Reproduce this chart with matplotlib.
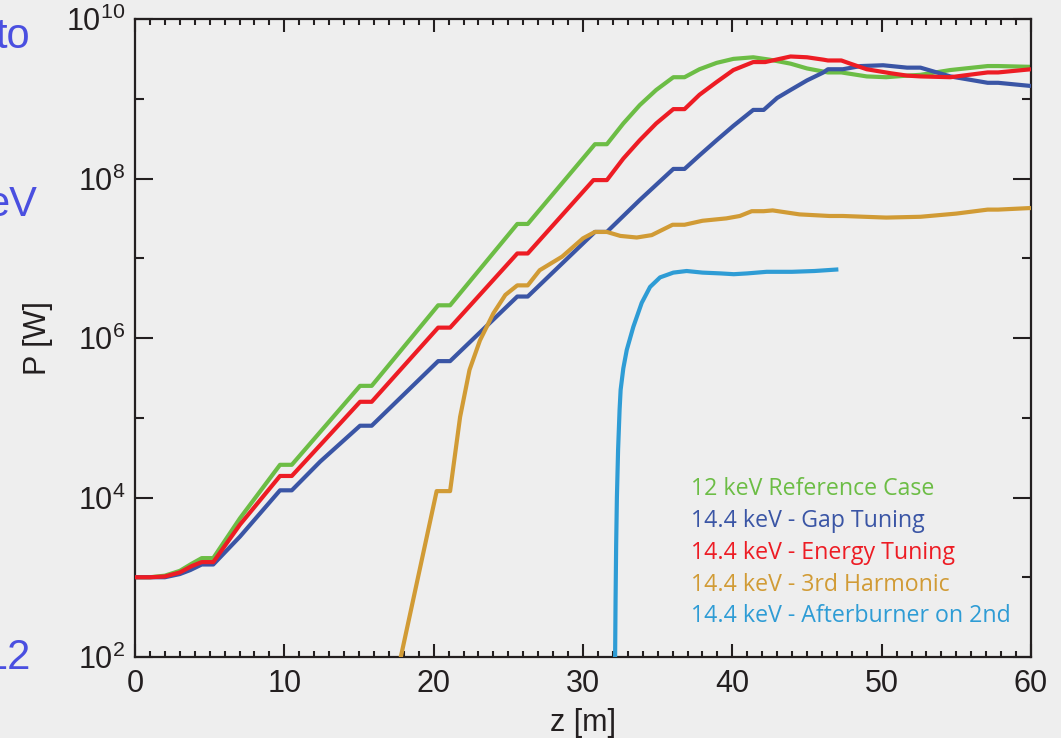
import numpy as np
import matplotlib
matplotlib.use("Agg")
import matplotlib.pyplot as plt
from matplotlib.ticker import FixedLocator, NullFormatter

plt.rcParams['font.family'] = ['Liberation Sans', 'DejaVu Sans']
plt.rcParams['mathtext.default'] = 'regular'

# ---------------- data (log10 of power in W vs z in m) ----------------
z_ref = [0, 1, 2, 3, 3.8, 4.47, 5.24, 7.03, 9.71, 10.5, 15.07, 15.85, 20.3, 21.1,
         25.6, 26.3, 30.8, 31.6, 32.7, 33.8, 34.9, 36.05, 36.8, 37.8, 38.95, 40.07,
         41.4, 42.5, 43.9, 45.0, 46.4, 47.3, 49.0, 50.3, 51.7, 52.6, 54.6, 57.1, 57.8, 60]
logp_ref = [3.0, 3.0, 3.02, 3.08, 3.17, 3.24, 3.24, 3.74, 4.41, 4.41, 5.40, 5.40, 6.41, 6.41,
            7.43, 7.43, 8.43, 8.43, 8.69, 8.92, 9.11, 9.27, 9.27, 9.37, 9.45, 9.50,
            9.52, 9.49, 9.44, 9.38, 9.33, 9.33, 9.28, 9.27, 9.29, 9.30, 9.36, 9.41, 9.41, 9.40]

z_gap = [0, 1, 2, 3, 3.7, 4.47, 5.24, 7.03, 9.71, 10.5, 12.4, 15.07, 15.85, 20.3, 21.1,
         25.6, 26.3, 30.8, 31.6, 33.8, 36.05, 36.8, 37.8, 38.95, 40.07, 41.4, 42.1,
         43.0, 43.9, 45.0, 46.1, 46.4, 47.4, 48.6, 50.1, 51.7, 52.6, 54.6, 57.1, 57.8, 60]
logp_gap = [3.0, 3.0, 3.0, 3.04, 3.09, 3.16, 3.16, 3.51, 4.09, 4.09, 4.45, 4.90, 4.90, 5.71, 5.71,
            6.52, 6.52, 7.33, 7.33, 7.73, 8.12, 8.12, 8.29, 8.48, 8.66, 8.86, 8.86,
            9.01, 9.11, 9.23, 9.33, 9.37, 9.37, 9.41, 9.42, 9.39, 9.39, 9.28, 9.20, 9.20, 9.16]

z_energy = [0, 1, 2, 3, 3.8, 4.47, 5.24, 7.03, 9.71, 10.5, 15.07, 15.85, 20.3, 21.1,
            25.6, 26.3, 30.7, 31.6, 32.7, 33.8, 34.9, 36.05, 36.8, 37.8, 38.95, 40.07,
            41.4, 42.2, 43.9, 45.0, 46.1, 46.4, 47.3, 47.9, 49.0, 50.6, 51.7, 52.6, 54.6,
            57.1, 57.8, 60]
logp_energy = [3.0, 3.0, 3.01, 3.06, 3.14, 3.19, 3.19, 3.66, 4.27, 4.27, 5.20, 5.20, 6.13, 6.13,
               7.06, 7.06, 7.98, 7.98, 8.25, 8.48, 8.69, 8.87, 8.87, 9.05, 9.21, 9.36,
               9.46, 9.46, 9.53, 9.52, 9.49, 9.48, 9.48, 9.44, 9.37, 9.32, 9.29, 9.28, 9.27,
               9.33, 9.33, 9.37]

z_harm3 = [17.0, 17.8, 20.2, 21.1, 21.77, 22.4, 23.1, 24.0, 24.8, 25.6, 26.3, 27.1,
           28.6, 30.0, 30.8, 31.6, 32.5, 33.6, 34.6, 36.0, 36.8, 38.0, 39.6, 40.5,
           41.3, 42.1, 42.7, 44.5, 46.5, 47.4, 50.3, 52.6, 55.0, 57.1, 57.8, 60]
logp_harm3 = [1.3, 2.0, 4.08, 4.08, 5.01, 5.60, 5.97, 6.31, 6.54, 6.66, 6.66, 6.85,
              7.02, 7.25, 7.33, 7.33, 7.28, 7.26, 7.29, 7.42, 7.42, 7.47, 7.50, 7.53,
              7.59, 7.59, 7.60, 7.55, 7.53, 7.53, 7.51, 7.52, 7.56, 7.61, 7.61, 7.63]

z_after = [32.12, 32.15, 32.18, 32.22, 32.27, 32.35, 32.45, 32.52, 32.7, 32.93, 33.37,
           33.93, 34.49, 35.16, 36.05, 36.94, 38.0, 39.2, 40.1, 41.0, 42.3, 44.0, 45.5, 47.1]
logp_after = [1.0, 2.0, 2.7, 3.4, 4.0, 4.6, 5.1, 5.35, 5.62, 5.85, 6.14,
              6.44, 6.64, 6.76, 6.82, 6.84, 6.82, 6.81, 6.80, 6.81, 6.83, 6.83, 6.84, 6.86]

labels = ["12 keV Reference Case", "14.4 keV - Gap Tuning", "14.4 keV - Energy Tuning",
          "14.4 keV - 3rd Harmonic", "14.4 keV - Afterburner on 2nd"]
colors = ["#6cbd45", "#3a55a5", "#ed1c24", "#d19b35", "#2e9cd5"]

x_major = [0, 10, 20, 30, 40, 50, 60]
y_major = [1e2, 1e4, 1e6, 1e8, 1e10]
y_major_labels = [r"$\mathregular{10^{2}}$", r"$\mathregular{10^{4}}$", r"$\mathregular{10^{6}}$",
                  r"$\mathregular{10^{8}}$", r"$\mathregular{10^{10}}$"]
y_minor = [1e3, 1e5, 1e7, 1e9]

# ---------------- figure ----------------
bg = "#eeeeee"
ink = "#231f20"
fig = plt.figure(figsize=(10.61, 7.38), dpi=100, facecolor=bg)
ax = fig.add_axes([135 / 1061, 1 - 657 / 738, 896 / 1061, 638 / 738])
ax.set_facecolor(bg)

series = [(z_ref, logp_ref), (z_gap, logp_gap), (z_energy, logp_energy),
          (z_harm3, logp_harm3), (z_after, logp_after)]
order = [3, 4, 1, 2, 0]
for i in order:
    zz, lp = series[i]
    ax.plot(zz, 10 ** np.asarray(lp), color=colors[i], lw=3.0, solid_joinstyle='round',
            solid_capstyle='butt', zorder=2 + i)

ax.set_yscale('log')
ax.set_xlim(0, 60)
ax.set_ylim(1e2, 1e10)

ax.set_xticks(x_major, labels=[str(v) for v in x_major])
ax.xaxis.set_minor_locator(FixedLocator(np.arange(0, 61, 1)))
ax.set_yticks(y_major, labels=y_major_labels)
ax.yaxis.set_minor_locator(FixedLocator(y_minor))
ax.yaxis.set_minor_formatter(NullFormatter())

ax.tick_params(axis='both', which='both', direction='in', top=True, right=True,
               colors=ink, width=1.5, labelsize=22, labelcolor=ink)
ax.tick_params(axis='x', which='major', length=9.5, pad=9)
ax.tick_params(axis='x', which='minor', length=4.5)
ax.tick_params(axis='y', which='major', length=13, pad=7)
ax.tick_params(axis='y', which='minor', length=6.5)
for s in ax.spines.values():
    s.set_linewidth(1.6)
    s.set_color(ink)

ax.set_xlabel("z [m]", fontsize=22, color=ink, va='center')
ax.xaxis.set_label_coords(0.5, (657 - 723) / 638)
ax.set_ylabel("P [W]", fontsize=22, color=ink, va='center')
ax.yaxis.set_label_coords((38 - 135) / 896, 0.5)

# colored text legend
for k, (lab, col) in enumerate(zip(labels, colors)):
    ypix = [489, 521, 553, 585, 616][k]
    fig.text(691 / 1061, 1 - ypix / 738, lab, color=col, fontsize=16.7,
             family=['Open Sans', 'DejaVu Sans'], ha='left', va='center')

# slide text cut by the left edge of the picture (as in the reference)
slide_blue = "#4a4fe0"
for txt, xr, yc in [("to", 30, 37), ("eV", 37, 205), ("12", 31, 658)]:
    fig.text(xr / 1061, 1 - yc / 738, txt, color=slide_blue, fontsize=30,
             ha='right', va='center')

fig.savefig("out.png", dpi=100, facecolor=bg)
